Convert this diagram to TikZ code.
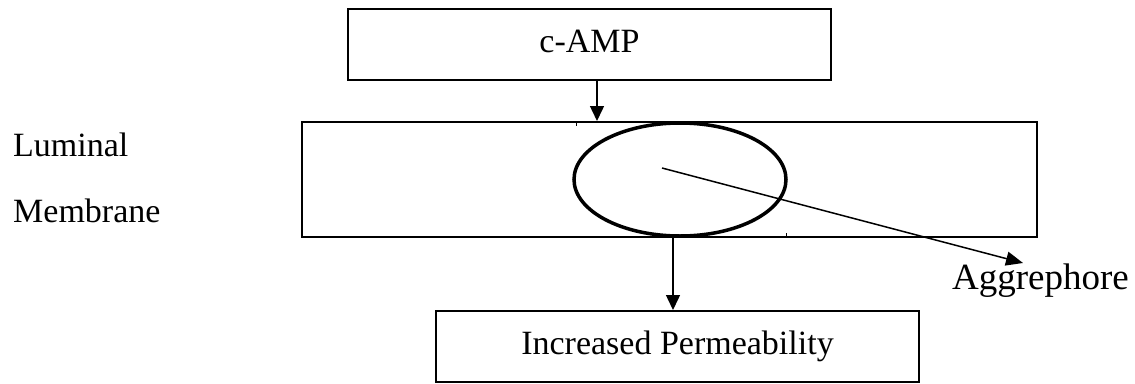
\documentclass[tikz,border=0pt]{standalone}
\usepackage{fontspec}
\setmainfont{Liberation Serif}
\usetikzlibrary{arrows.meta,shapes.geometric}

\begin{document}
\begin{tikzpicture}[x=1pt,y=-1pt,
  txt/.style={font=\fontsize{34}{40}\selectfont, inner sep=0pt},
  bigtxt/.style={font=\fontsize{37}{44}\selectfont, inner sep=0pt},
  box/.style={draw, line width=2pt, inner sep=0pt, text height=23pt, text depth=7pt,
              font=\fontsize{34}{40}\selectfont},
  pore/.style={draw, ellipse, line width=3.5pt, inner sep=0pt},
  arr/.style={line width=1.5pt, -{Triangle[length=15pt,width=14pt]}},
  tick/.style={line width=0.8pt}]
\useasboundingbox (0,0) rectangle (1135,383);

% boxes
\node[box, minimum width=483pt, minimum height=71pt] (camp) at (589.5,44.5) {c-AMP};
\node[box, minimum width=735pt, minimum height=115pt] (memb) at (669.5,179.5) {};
\node[box, minimum width=483pt, minimum height=71pt] (perm) at (677.5,346.5) {Increased Permeability};

% aggrephore inside the membrane
\node[pore, minimum width=212pt, minimum height=113pt] (agg) at (680,179.5) {};

% side labels
\node[txt, anchor=base west] (lum) at (13,156) {Luminal};
\node[txt, anchor=base west] (mem) at (13,222) {Membrane};
\node[bigtxt, anchor=base west] (aglab) at (952,289) {Aggrephore};

% connector positions
\coordinate (xin) at (597,0);
\coordinate (xout) at (673,0);
\coordinate (aggin) at (662,168);
\coordinate (aggtip) at (1023,263);

% connectors
\draw[arr] (camp.south -| xin) -- (memb.north -| xin);
\draw[arr] (agg.south -| xout) -- (perm.north -| xout);
\draw[line width=1.5pt, -{Triangle[length=17pt,width=14pt]}] (aggin) -- (aggtip);

% small marks on the membrane edges
\draw[tick] (576,122) -- (576,126);
\draw[tick] (786,233) -- (786,237);
\end{tikzpicture}
\end{document}
